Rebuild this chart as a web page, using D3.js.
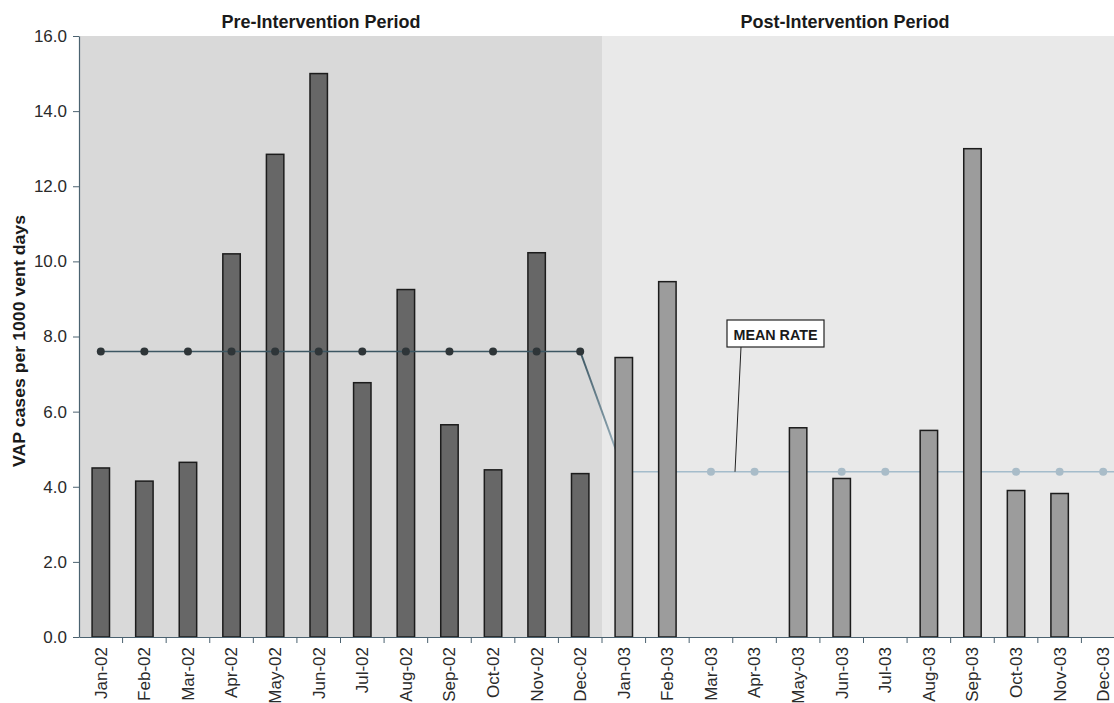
<!DOCTYPE html>
<html>
<head>
<meta charset="utf-8">
<script src="https://cdn.jsdelivr.net/npm/d3@7.9.0/dist/d3.min.js"></script>
<style>
  html, body { margin: 0; padding: 0; background: #fff; overflow: hidden; }
  svg { display: block; font-family: "Liberation Sans", Arial, sans-serif; }
</style>
</head>
<body>
<svg id="chart" width="1114" height="703"></svg>
<script>
const months = ["Jan-02", "Feb-02", "Mar-02", "Apr-02", "May-02", "Jun-02",
  "Jul-02", "Aug-02", "Sep-02", "Oct-02", "Nov-02", "Dec-02",
  "Jan-03", "Feb-03", "Mar-03", "Apr-03", "May-03", "Jun-03",
  "Jul-03", "Aug-03", "Sep-03", "Oct-03", "Nov-03", "Dec-03"];
const rates = [4.5, 4.15, 4.65, 10.2, 12.85, 15.0, 6.77, 9.25, 5.65, 4.45, 10.23, 4.35,
  7.44, 9.46, 0, 0, 5.57, 4.22, 0, 5.5, 13.0, 3.9, 3.82, 0];
const preMonths = months.slice(0, 12);
const postMonths = months.slice(12);
const preMean = 7.6;
const postMean = 4.4;
const yTicks = [0, 2, 4, 6, 8, 10, 12, 14, 16];

const svg = d3.select("#chart");
const margin = { top: 36, left: 79, bottom: 637, right: 1125 };

const x = d3.scaleBand()
  .domain(months)
  .range([margin.left, margin.right])
  .paddingInner(0.6)
  .paddingOuter(0.3);

const y = d3.scaleLinear()
  .domain([0, 16])
  .range([margin.bottom, margin.top]);

const step = x.step();
const cx = d => x(d) + x.bandwidth() / 2;
const split = x("Jan-03") - step * 0.3;

// background panels
svg.append("rect")
  .attr("x", margin.left).attr("y", y(16))
  .attr("width", split - margin.left).attr("height", y(0) - y(16))
  .attr("fill", "#d9d9d9");
svg.append("rect")
  .attr("x", split).attr("y", y(16))
  .attr("width", margin.right - split).attr("height", y(0) - y(16))
  .attr("fill", "#e9e9e9");

// gradient for the drop from pre mean to post mean
const defs = svg.append("defs");
const grad = defs.append("linearGradient")
  .attr("id", "drop")
  .attr("gradientUnits", "userSpaceOnUse")
  .attr("x1", cx("Dec-02")).attr("y1", y(preMean))
  .attr("x2", cx("Jan-03")).attr("y2", y(postMean));
grad.append("stop").attr("offset", "0%").attr("stop-color", "#3d5763");
grad.append("stop").attr("offset", "100%").attr("stop-color", "#a9c0cc");

const line = d3.line().x(d => cx(d[0])).y(d => y(d[1]));

// post mean line sits behind the bars
svg.append("path")
  .attr("d", line([["Dec-02", preMean], ["Jan-03", postMean]]))
  .attr("fill", "none").attr("stroke", "url(#drop)").attr("stroke-width", 2);
svg.append("path")
  .attr("d", line(postMonths.map(m => [m, postMean])) + "L" + margin.right + "," + y(postMean))
  .attr("fill", "none").attr("stroke", "#a4bccb").attr("stroke-width", 1.5);
svg.append("g")
  .selectAll("circle")
  .data(postMonths)
  .join("circle")
  .attr("cx", cx).attr("cy", y(postMean)).attr("r", 4)
  .attr("fill", "#a9bcc8");

// bars
svg.append("g")
  .selectAll("rect")
  .data(months.map((m, i) => ({ m, v: rates[i], pre: i < 12 })).filter(d => d.v > 0))
  .join("rect")
  .attr("x", d => x(d.m))
  .attr("y", d => y(d.v))
  .attr("width", x.bandwidth())
  .attr("height", d => y(0) - y(d.v))
  .attr("fill", d => d.pre ? "#676767" : "#9c9c9c")
  .attr("stroke", "#1c1c1c")
  .attr("stroke-width", 1.5);

// pre mean line over the bars
svg.append("path")
  .attr("d", line(preMonths.map(m => [m, preMean])))
  .attr("fill", "none").attr("stroke", "#3d5763").attr("stroke-width", 1.5);
svg.append("g")
  .selectAll("circle")
  .data(preMonths)
  .join("circle")
  .attr("cx", cx).attr("cy", y(preMean)).attr("r", 4)
  .attr("fill", "#2e3538");

// y axis
const yAxis = svg.append("g")
  .attr("transform", `translate(${margin.left},0)`)
  .call(d3.axisLeft(y).tickValues(yTicks).tickFormat(d3.format(".1f")).tickSize(6).tickSizeOuter(0));
yAxis.select(".domain").attr("stroke", "#4b6270").attr("stroke-width", 1.2);
yAxis.selectAll(".tick line").attr("stroke", "#4b6270");
yAxis.selectAll(".tick text")
  .attr("x", -12)
  .style("font-size", "17px")
  .attr("fill", "#2a2a2a");

// x axis
const xAxis = svg.append("g")
  .attr("transform", `translate(0,${margin.bottom})`)
  .call(d3.axisBottom(x).tickSize(0).tickSizeOuter(0));
xAxis.select(".domain").attr("stroke", "#4b6270").attr("stroke-width", 1.2);
xAxis.selectAll(".tick text")
  .attr("transform", "rotate(-90)")
  .attr("text-anchor", "end")
  .attr("x", -10)
  .attr("y", 0)
  .attr("dy", "0.35em")
  .style("font-size", "17px")
  .attr("fill", "#2a2a2a");
xAxis.append("g")
  .selectAll("line")
  .data(months.slice(1))
  .join("line")
  .attr("x1", d => x(d) - step * 0.3)
  .attr("x2", d => x(d) - step * 0.3)
  .attr("y1", 0).attr("y2", 6)
  .attr("stroke", "#4b6270");

// period titles
svg.append("text")
  .attr("x", 321).attr("y", 28)
  .attr("text-anchor", "middle")
  .style("font-size", "18px").style("font-weight", "bold")
  .attr("fill", "#1a1a1a")
  .text("Pre-Intervention Period");
svg.append("text")
  .attr("x", 845).attr("y", 28)
  .attr("text-anchor", "middle")
  .style("font-size", "18px").style("font-weight", "bold")
  .attr("fill", "#1a1a1a")
  .text("Post-Intervention Period");

// y label
svg.append("text")
  .attr("transform", "rotate(-90)")
  .attr("x", -341)
  .attr("y", 25)
  .attr("text-anchor", "middle")
  .attr("textLength", 252).attr("lengthAdjust", "spacingAndGlyphs")
  .style("font-size", "17px").style("font-weight", "bold")
  .attr("fill", "#1a1a1a")
  .text("VAP cases per 1000 vent days");

// MEAN RATE callout
svg.append("line")
  .attr("x1", 741).attr("y1", 347)
  .attr("x2", 735).attr("y2", y(postMean))
  .attr("stroke", "#222").attr("stroke-width", 1);
svg.append("rect")
  .attr("x", 727).attr("y", 320)
  .attr("width", 97).attr("height", 27)
  .attr("fill", "#fff").attr("stroke", "#222").attr("stroke-width", 1.2);
svg.append("text")
  .attr("x", 775.5).attr("y", 339.5)
  .attr("text-anchor", "middle")
  .attr("textLength", 84).attr("lengthAdjust", "spacingAndGlyphs")
  .style("font-size", "15px").style("font-weight", "bold")
  .attr("fill", "#1a1a1a")
  .text("MEAN RATE");
</script>
</body>
</html>
